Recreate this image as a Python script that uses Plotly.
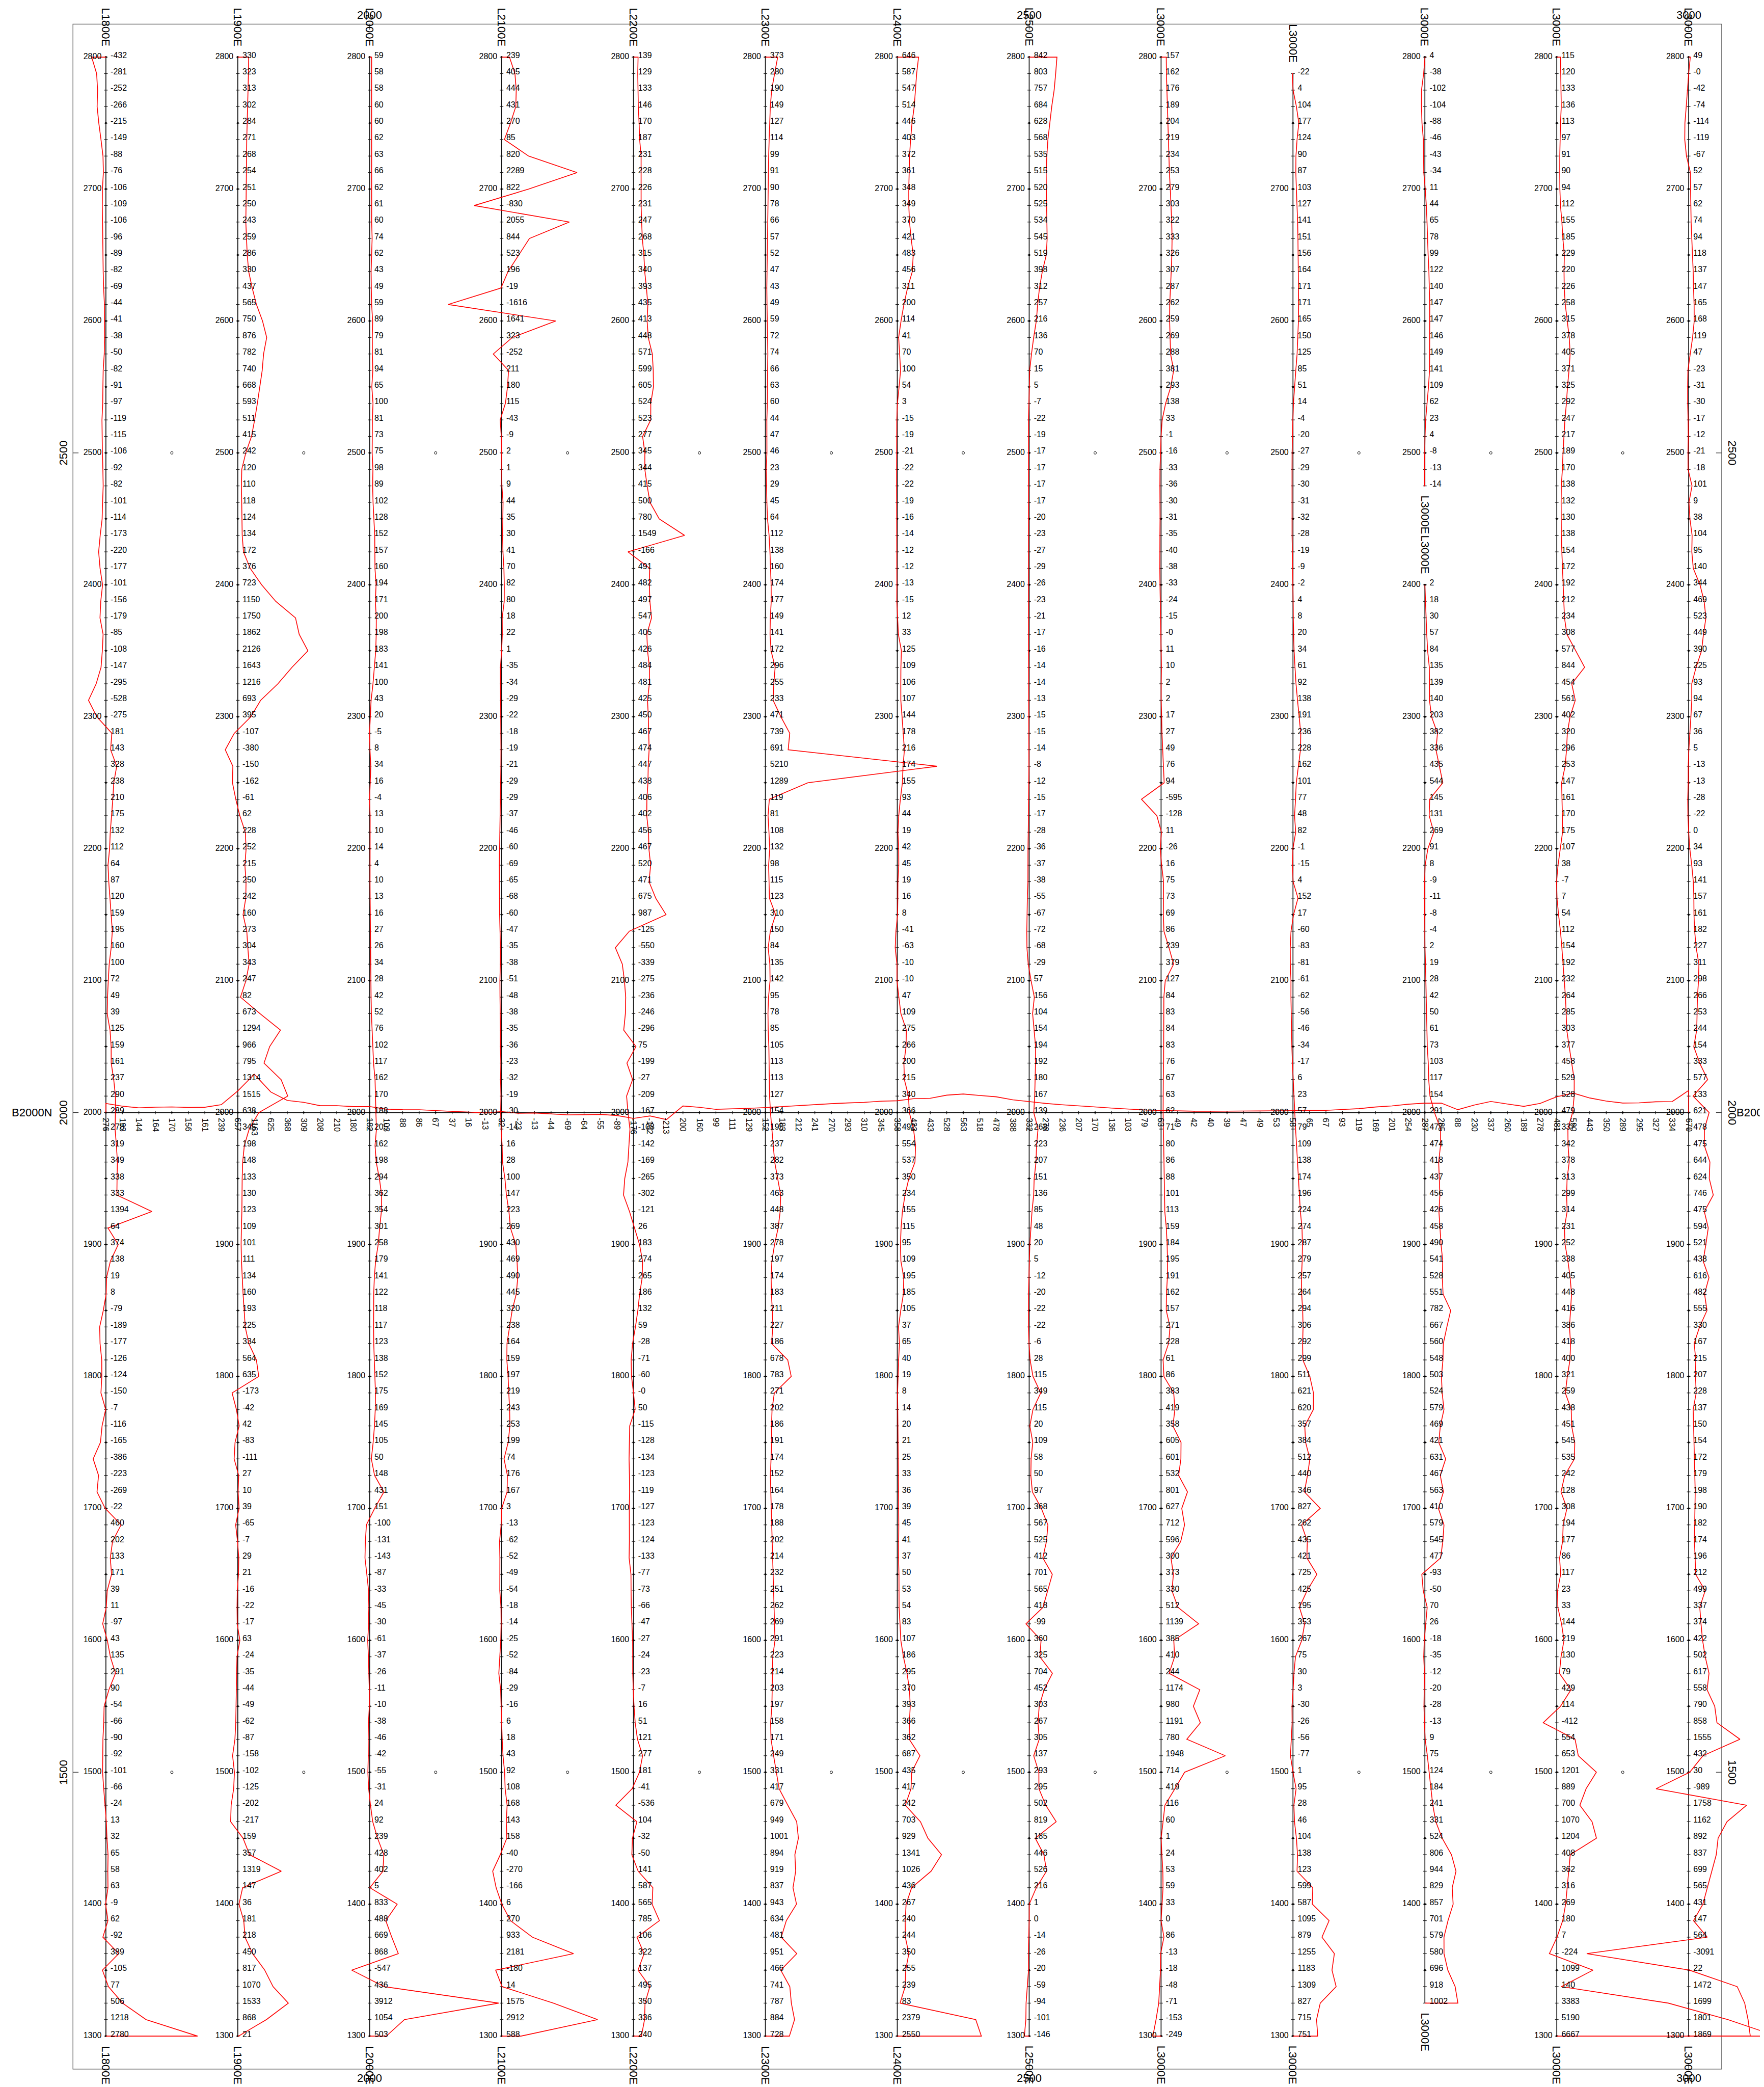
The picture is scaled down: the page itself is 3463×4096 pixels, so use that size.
import numpy as np
import plotly.graph_objects as go

# ---------------- data ----------------
line_x = [1800, 1900, 2000, 2100, 2200, 2300, 2400, 2500, 2600, 2700, 2800, 2900, 3000]
line_names = ["L1800E", "L1900E", "L2000E", "L2100E", "L2200E", "L2300E", "L2400E",
              "L2500E", "L3000E", "L3000E", "L3000E", "L3000E", "L3000E"]
step = 12.5

L1800E = [-432, -281, -252, -266, -215, -149, -88, -76,
          -106, -109, -106, -96, -89, -82, -69, -44,
          -41, -38, -50, -82, -91, -97, -119, -115,
          -106, -92, -82, -101, -114, -173, -220, -177,
          -101, -156, -179, -85, -108, -147, -295, -528,
          -275, 181, 143, 328, 238, 210, 175, 132,
          112, 64, 87, 120, 159, 195, 160, 100,
          72, 49, 39, 125, 159, 161, 237, 290,
          289, 278, 319, 349, 338, 333, 1394, 64,
          374, 138, 19, 8, -79, -189, -177, -126,
          -124, -150, -7, -116, -165, -386, -223, -269,
          -22, 460, 202, 133, 171, 39, 11, -97,
          43, 135, 291, 90, -54, -66, -90, -92,
          -101, -66, -24, 13, 32, 65, 58, 63,
          -9, 62, -92, 389, -105, 77, 506, 1218,
          2780]
L1900E = [330, 323, 313, 302, 284, 271, 268, 254,
          251, 250, 243, 259, 286, 330, 437, 565,
          750, 876, 782, 740, 668, 593, 511, 415,
          242, 120, 110, 118, 124, 134, 172, 376,
          723, 1150, 1750, 1862, 2126, 1643, 1216, 693,
          395, -107, -380, -150, -162, -61, 62, 228,
          252, 215, 250, 242, 160, 273, 304, 343,
          247, 82, 673, 1294, 966, 795, 1314, 1515,
          638, 345, 198, 148, 133, 130, 123, 109,
          101, 111, 134, 160, 193, 225, 334, 564,
          635, -173, -42, 42, -83, -111, 27, 10,
          39, -65, -7, 29, 21, -16, -22, -17,
          63, -24, -35, -44, -49, -62, -87, -158,
          -102, -125, -202, -217, 159, 357, 1319, 147,
          36, 181, 218, 450, 817, 1070, 1533, 868,
          21]
L2000E = [59, 58, 58, 60, 60, 62, 63, 66,
          62, 61, 60, 74, 62, 43, 49, 59,
          89, 79, 81, 94, 65, 100, 81, 73,
          75, 98, 89, 102, 128, 152, 157, 160,
          194, 171, 200, 198, 183, 141, 100, 43,
          20, -5, 8, 34, 16, -4, 13, 10,
          14, 4, 10, 13, 16, 27, 26, 34,
          28, 42, 52, 76, 102, 117, 162, 170,
          188, 205, 162, 198, 294, 362, 354, 301,
          258, 179, 141, 122, 118, 117, 123, 138,
          152, 175, 169, 145, 105, 50, 148, 431,
          151, -100, -131, -143, -87, -33, -45, -30,
          -61, -37, -26, -11, -10, -38, -46, -42,
          -55, -31, 24, 92, 239, 428, 402, 5,
          833, 488, 669, 868, -547, 436, 3912, 1054,
          503]
L2100E = [239, 405, 444, 431, 270, 85, 820, 2289,
          822, -830, 2055, 844, 523, 196, -19, -1616,
          1641, 323, -252, 211, 180, 115, -43, -9,
          2, 1, 9, 44, 35, 30, 41, 70,
          82, 80, 18, 22, 1, -35, -34, -29,
          -22, -18, -19, -21, -29, -29, -37, -46,
          -60, -69, -65, -68, -60, -47, -35, -38,
          -51, -48, -38, -35, -36, -23, -32, -19,
          -30, -14, 16, 28, 100, 147, 223, 269,
          430, 469, 490, 445, 320, 238, 164, 159,
          197, 219, 243, 253, 199, 74, 176, 167,
          3, -13, -62, -52, -49, -54, -18, -14,
          -25, -52, -84, -29, -16, 6, 18, 43,
          92, 108, 168, 143, 158, -40, -270, -166,
          6, 270, 933, 2181, -180, 14, 1575, 2912,
          588]
L2200E = [139, 129, 133, 146, 170, 187, 231, 228,
          226, 231, 247, 268, 315, 340, 393, 435,
          413, 448, 571, 599, 605, 524, 523, 277,
          345, 344, 415, 500, 780, 1549, -166, 491,
          482, 497, 547, 405, 426, 484, 481, 425,
          450, 467, 474, 447, 438, 406, 402, 456,
          467, 520, 471, 675, 987, -125, -550, -339,
          -275, -236, -246, -296, 75, -199, -27, -209,
          -167, -108, -142, -169, -265, -302, -121, 26,
          183, 274, 265, 186, 132, 59, -28, -71,
          -60, -0.0, 50, -115, -128, -134, -123, -119,
          -127, -123, -124, -133, -77, -73, -66, -47,
          -27, -24, -23, -7, 16, 51, 121, 277,
          181, -41, -536, 104, -32, -50, 141, 587,
          565, 785, 106, 322, 137, 495, 350, 336,
          240]
L2300E = [373, 280, 190, 149, 127, 114, 99, 91,
          90, 78, 66, 57, 52, 47, 43, 49,
          59, 72, 74, 66, 63, 60, 44, 47,
          46, 23, 29, 45, 64, 112, 138, 160,
          174, 177, 149, 141, 172, 296, 255, 233,
          471, 739, 691, 5210, 1289, 119, 81, 108,
          132, 98, 115, 123, 310, 150, 84, 135,
          142, 95, 78, 85, 105, 113, 113, 127,
          154, 195, 237, 282, 373, 463, 448, 387,
          278, 197, 174, 183, 211, 227, 186, 678,
          783, 271, 202, 186, 191, 174, 152, 164,
          178, 188, 202, 214, 232, 251, 262, 269,
          291, 223, 214, 203, 197, 158, 171, 249,
          331, 417, 679, 949, 1001, 894, 919, 837,
          943, 634, 481, 951, 466, 741, 787, 884,
          728]
L2400E = [646, 587, 547, 514, 446, 403, 372, 361,
          348, 349, 370, 421, 483, 456, 311, 200,
          114, 41, 70, 100, 54, 3, -15, -19,
          -21, -22, -22, -19, -16, -14, -12, -12,
          -13, -15, 12, 33, 125, 109, 106, 107,
          144, 178, 216, 174, 155, 93, 44, 19,
          42, 45, 19, 16, 8, -41, -63, -10,
          -10, 47, 109, 275, 266, 200, 215, 340,
          366, 492, 554, 537, 350, 234, 155, 115,
          95, 109, 195, 185, 105, 37, 65, 40,
          19, 8, 14, 20, 21, 25, 33, 36,
          39, 45, 41, 37, 50, 53, 54, 83,
          107, 186, 295, 370, 393, 366, 362, 687,
          435, 417, 242, 703, 929, 1341, 1026, 436,
          267, 240, 244, 350, 255, 239, 83, 2379,
          2550]
L2500E = [842, 803, 757, 684, 628, 568, 535, 515,
          520, 525, 534, 545, 519, 398, 312, 257,
          216, 136, 70, 15, 5, -7, -22, -19,
          -17, -17, -17, -17, -20, -23, -27, -29,
          -26, -23, -21, -17, -16, -14, -14, -13,
          -15, -15, -14, -8, -12, -15, -17, -28,
          -36, -37, -38, -55, -67, -72, -68, -29,
          57, 156, 104, 154, 194, 192, 180, 167,
          139, 268, 223, 207, 151, 136, 85, 48,
          20, 5, -12, -20, -22, -22, -6, 28,
          115, 349, 115, 20, 109, 58, 50, 97,
          368, 567, 525, 412, 701, 565, 418, -99,
          360, 325, 704, 452, 303, 267, 305, 137,
          293, 295, 502, 819, 185, 446, 526, 216,
          1, 0, -14, -26, -20, -59, -94, -101,
          -146]
L2600E = [157, 162, 176, 189, 204, 219, 234, 253,
          279, 303, 322, 333, 326, 307, 287, 262,
          259, 269, 288, 381, 293, 138, 33, -1,
          -16, -33, -36, -30, -31, -35, -40, -38,
          -33, -24, -15, -0.0, 11, 10, 2, 2,
          17, 27, 49, 76, 94, -595, -128, 11,
          -26, 16, 75, 73, 69, 86, 239, 379,
          127, 84, 83, 84, 83, 76, 67, 63,
          62, 71, 80, 86, 88, 101, 113, 159,
          184, 195, 191, 162, 157, 271, 228, 61,
          86, 383, 419, 358, 605, 601, 532, 801,
          627, 712, 596, 300, 373, 330, 512, 1139,
          385, 410, 244, 1174, 980, 1191, 780, 1948,
          714, 419, 116, 60, 1, 24, 53, 59,
          33, 0, 86, -13, -18, -48, -71, -153,
          -249]
# starts at 2787.5
L2700E = [-22, 4, 104, 177, 124, 90, 87,
          103, 127, 141, 151, 156, 164, 171, 171,
          165, 150, 125, 85, 51, 14, -4, -20,
          -27, -29, -30, -31, -32, -28, -19, -9,
          -2, 4, 8, 20, 34, 61, 92, 138,
          191, 236, 228, 162, 101, 77, 48, 82,
          -1, -15, 4, 152, 17, -60, -83, -81,
          -61, -62, -56, -46, -34, -17, 6, 23,
          57, 79, 109, 138, 174, 196, 224, 274,
          287, 279, 257, 264, 294, 306, 292, 299,
          511, 621, 620, 357, 384, 512, 440, 346,
          827, 262, 435, 421, 725, 425, 195, 353,
          267, 75, 30, 3, -30, -26, -56, -77,
          1, 95, 28, 46, 104, 138, 123, 599,
          587, 1095, 879, 1255, 1183, 1309, 827, 715,
          751]
# 2800 -> 2475
L2800E_a = [4, -38, -102, -104, -88, -46, -43, -34,
            11, 44, 65, 78, 99, 122, 140, 147,
            147, 146, 149, 141, 109, 62, 23, 4,
            -8, -13, -14]
# 2400 -> 1325
L2800E_b = [2, 18, 30, 57, 84, 135, 139, 140,
            203, 382, 336, 435, 544, 145, 131, 269,
            91, 8, -9, -11, -8, -4, 2, 19,
            28, 42, 50, 61, 73, 103, 117, 154,
            291, 477, 474, 418, 437, 456, 426, 458,
            490, 541, 528, 551, 782, 667, 560, 548,
            503, 524, 579, 469, 421, 631, 467, 563,
            410, 579, 545, 477, -93, -50, 70, 26,
            -18, -35, -12, -20, -28, -13, 9, 75,
            124, 184, 241, 331, 524, 806, 944, 829,
            857, 701, 579, 580, 696, 918, 1002]
L2900E = [115, 120, 133, 136, 113, 97, 91, 90,
          94, 112, 155, 185, 229, 220, 226, 258,
          315, 378, 405, 371, 325, 292, 247, 217,
          189, 170, 138, 132, 130, 138, 154, 172,
          192, 212, 234, 308, 577, 844, 454, 561,
          402, 320, 296, 253, 147, 161, 170, 175,
          107, 38, -7, 7, 54, 112, 154, 192,
          232, 264, 285, 303, 377, 458, 529, 528,
          479, 337, 342, 378, 313, 299, 314, 231,
          252, 338, 405, 448, 416, 386, 418, 400,
          321, 259, 438, 451, 545, 535, 242, 128,
          308, 194, 177, 86, 117, 23, 33, 144,
          219, 130, 79, 429, 114, -412, 554, 653,
          1201, 889, 700, 1070, 1204, 408, 362, 316,
          269, 180, 7, -224, 1099, 140, 3383, 5190,
          6667]
L3000E = [49, -0.0, -42, -74, -114, -119, -67, 52,
          57, 62, 74, 94, 118, 137, 147, 165,
          168, 119, 47, -23, -31, -30, -17, -12,
          -21, -18, 101, 9, 38, 104, 95, 140,
          344, 469, 523, 449, 390, 225, 93, 94,
          67, 36, 5, -13, -13, -28, -22, 0,
          34, 93, 141, 157, 161, 182, 227, 311,
          298, 266, 253, 244, 154, 333, 577, 133,
          621, 478, 475, 644, 624, 746, 475, 594,
          521, 438, 616, 482, 555, 330, 167, 215,
          207, 228, 137, 150, 154, 172, 179, 198,
          190, 182, 174, 196, 212, 499, 337, 374,
          422, 502, 617, 558, 790, 858, 1555, 432,
          30, -989, 1758, 1162, 892, 837, 699, 565,
          431, 147, 564, -3091, 22, 1472, 1699, 1801,
          1869]

# baseline B2000N, 1800 -> 3000 every 12.5
base_y = 2000
base_start = 1800
B2000N = [276, 193, 144, 164, 170, 156, 161, 239,
          657, 1163, 625, 368, 309, 208, 210, 180,
          182, 103, 88, 86, 67, 37, 16, -13,
          32, -23, -13, -44, -69, -64, -55, -89,
          -176, -102, -213, 200, 160, 99, 111, 129,
          152, 183, 212, 241, 270, 293, 310, 345,
          358, 423, 433, 528, 563, 518, 478, 388,
          332, 278, 236, 207, 170, 136, 103, 79,
          63, 49, 42, 40, 39, 47, 49, 53,
          58, 65, 67, 93, 119, 169, 201, 254,
          287, 285, 88, 230, 337, 260, 189, 278,
          481, 590, 443, 350, 289, 295, 327, 334,
          670]

# segments: (line index, first northing, values)
segments = [
    (0, 2800, L1800E), (1, 2800, L1900E), (2, 2800, L2000E), (3, 2800, L2100E),
    (4, 2800, L2200E), (5, 2800, L2300E), (6, 2800, L2400E), (7, 2800, L2500E),
    (8, 2800, L2600E), (9, 2787.5, L2700E), (10, 2800, L2800E_a), (10, 2400, L2800E_b),
    (11, 2800, L2900E), (12, 2800, L3000E),
]

axis_ticks = [1500, 2000, 2500]
x_axis_ticks = [2000, 2500, 3000]
grid_x = [1850, 1950, 2050, 2150, 2250, 2350, 2450, 2550, 2650, 2750, 2850, 2950]
grid_y = [1500, 2500]

# ---------------- layout constants ----------------
W, H = 3463, 4096
XR = [1722.8, 3060.2]
PX = W / (XR[1] - XR[0])
YR = [2840.2 - H / PX, 2840.2]
FRAME = (1775, 1275, 3025, 2825)
K = 1 / 40.0  # profile scale (units per value)
FONT = "Liberation Sans, Arial, sans-serif"


def u(px):
    return px / PX


def fmt(v):
    return f"{v:.0f}"


fig = go.Figure()

lx, ly, tx, ty, dx, dy = [], [], [], [], [], []
red_traces = []
vlab_x, vlab_y, vlab_t = [], [], []
slab_x, slab_y, slab_t = [], [], []
annotations = []
for li, n0, vals in segments:
    x0 = line_x[li]
    norths = [n0 - i * step for i in range(len(vals))]
    lx += [x0, x0, None]
    ly += [norths[0], norths[-1], None]
    for n in norths:
        tx += [x0 - u(3.5), x0 + u(3.5), None]
        ty += [n, n, None]
        if abs(n / 50 - round(n / 50)) < 1e-6:
            dx.append(x0)
            dy.append(n)
        if abs(n / 100 - round(n / 100)) < 1e-6:
            slab_x.append(x0 - u(8.6))
            slab_y.append(n)
            slab_t.append(fmt(n))
    rx = [x0] + [x0 + v * K for v in vals] + [x0]
    ry = [norths[0]] + norths + [norths[-1]]
    red_traces.append((rx, ry))
    for n, v in zip(norths, vals):
        vlab_x.append(x0 + u(9.2))
        vlab_y.append(n + u(2.5))
        vlab_t.append(fmt(v))
    annotations.append(dict(x=x0, y=norths[0], text=line_names[li], textangle=90,
                            xanchor="center", yanchor="bottom", yshift=19, showarrow=False,
                            font=dict(size=22, family=FONT, color="black")))
    annotations.append(dict(x=x0, y=norths[-1], text=line_names[li], textangle=90,
                            xanchor="center", yanchor="top", yshift=-17, showarrow=False,
                            font=dict(size=22, family=FONT, color="black")))

# baseline
bx = [base_start + i * step for i in range(len(B2000N))]
lx += [bx[0], bx[-1], None]
ly += [base_y, base_y, None]
for x in bx:
    tx += [x, x, None]
    ty += [base_y - u(3.5), base_y + u(3.5), None]
    if abs(x / 50 - round(x / 50)) < 1e-6:
        dx.append(x)
        dy.append(base_y)
for x, v in zip(bx, B2000N):
    annotations.append(dict(x=x, y=base_y, text=fmt(v), textangle=90, xanchor="center",
                            yanchor="top", yshift=-8.5, showarrow=False,
                            font=dict(size=16, family=FONT, color="black")))
red_traces.append(([bx[0]] + bx + [bx[-1]],
                   [base_y] + [base_y + v * K for v in B2000N] + [base_y]))

fig.add_trace(go.Scatter(x=lx, y=ly, mode="lines", line=dict(color="#111111", width=1.7),
                         hoverinfo="skip", showlegend=False))
fig.add_trace(go.Scatter(x=tx, y=ty, mode="lines", line=dict(color="#111111", width=1.2),
                         hoverinfo="skip", showlegend=False))
fig.add_trace(go.Scatter(x=dx, y=dy, mode="markers", marker=dict(color="black", size=4),
                         hoverinfo="skip", showlegend=False))
gx = [x for y in grid_y for x in grid_x]
gy = [y for y in grid_y for x in grid_x]
fig.add_trace(go.Scatter(x=gx, y=gy, mode="markers",
                         marker=dict(symbol="circle-open", color="black", size=5,
                                     line=dict(width=1)),
                         hoverinfo="skip", showlegend=False))
for rx, ry in red_traces:
    fig.add_trace(go.Scatter(x=rx, y=ry, mode="lines", line=dict(color="red", width=1.6),
                             hoverinfo="skip", showlegend=False))
fig.add_trace(go.Scatter(x=vlab_x, y=vlab_y, mode="text", text=vlab_t,
                         textposition="middle right",
                         textfont=dict(size=16, family=FONT, color="black"),
                         hoverinfo="skip", showlegend=False))
fig.add_trace(go.Scatter(x=slab_x, y=slab_y, mode="text", text=slab_t,
                         textposition="middle left",
                         textfont=dict(size=16, family=FONT, color="black"),
                         hoverinfo="skip", showlegend=False))

# frame and axis ticks
shapes = [dict(type="rect", x0=FRAME[0], y0=FRAME[1], x1=FRAME[2], y1=FRAME[3],
               line=dict(color="#555555", width=1.2), layer="below")]
tl = u(11)
for t in axis_ticks:
    shapes.append(dict(type="line", x0=FRAME[0], x1=FRAME[0] + tl, y0=t, y1=t,
                       line=dict(color="#333333", width=1.2)))
    shapes.append(dict(type="line", x0=FRAME[2] - tl, x1=FRAME[2], y0=t, y1=t,
                       line=dict(color="#333333", width=1.2)))
    annotations.append(dict(x=FRAME[0], y=t, text=str(t), textangle=-90, xanchor="right",
                            yanchor="middle", xshift=-4, showarrow=False,
                            font=dict(size=22, family=FONT, color="black")))
    annotations.append(dict(x=FRAME[2], y=t, text=str(t), textangle=90, xanchor="left",
                            yanchor="middle", xshift=6, showarrow=False,
                            font=dict(size=22, family=FONT, color="black")))
for t in x_axis_ticks:
    shapes.append(dict(type="line", x0=t, x1=t, y0=FRAME[3] - tl, y1=FRAME[3],
                       line=dict(color="#333333", width=1.2)))
    shapes.append(dict(type="line", x0=t, x1=t, y0=FRAME[1], y1=FRAME[1] + tl,
                       line=dict(color="#333333", width=1.2)))
    annotations.append(dict(x=t, y=FRAME[3], text=str(t), xanchor="center",
                            yanchor="bottom", yshift=3, showarrow=False,
                            font=dict(size=22, family=FONT, color="black")))
    annotations.append(dict(x=t, y=FRAME[1], text=str(t), xanchor="center",
                            yanchor="top", yshift=-3, showarrow=False,
                            font=dict(size=22, family=FONT, color="black")))
annotations.append(dict(x=0, xref="paper", y=base_y, text="B2000N", xanchor="left",
                        yanchor="middle", xshift=13, showarrow=False,
                        font=dict(size=22, family=FONT, color="black")))
annotations.append(dict(x=FRAME[2], y=base_y, text="B2000N", xanchor="left",
                        yanchor="middle", xshift=27, showarrow=False,
                        font=dict(size=22, family=FONT, color="black")))

fig.update_layout(
    width=W, height=H, margin=dict(l=0, r=0, t=0, b=0),
    paper_bgcolor="white", plot_bgcolor="white",
    xaxis=dict(range=XR, visible=False, fixedrange=True),
    yaxis=dict(range=YR, visible=False, fixedrange=True),
    shapes=shapes, annotations=annotations, showlegend=False,
)
fig.write_html("out.html")
